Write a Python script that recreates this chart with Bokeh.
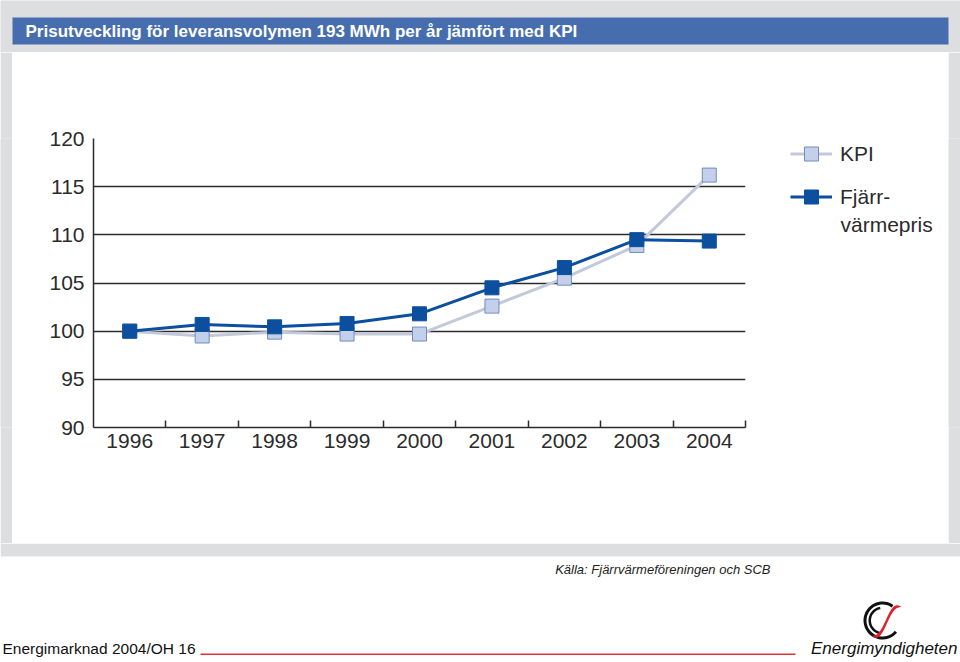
import numpy as np
from bokeh.plotting import figure
from bokeh.layouts import column, row
from bokeh.models import FixedTicker, BoxAnnotation, Label, Legend, LegendItem, PolyAnnotation, Range1d
from bokeh.embed import file_html
from bokeh.resources import INLINE

# ---- data ----
years = [1996, 1997, 1998, 1999, 2000, 2001, 2002, 2003, 2004]
kpi = [100.0, 99.5, 99.9, 99.7, 99.7, 102.6, 105.5, 108.9, 116.2]
fjarrvarme = [100.0, 100.7, 100.45, 100.8, 101.8, 104.5, 106.6, 109.5, 109.35]
y_ticks = [90, 95, 100, 105, 110, 115, 120]
title_text = "Prisutveckling för leveransvolymen 193 MWh per år jämfört med KPI"
legend_kpi = "KPI"
legend_fjv_1 = "Fjärr-"
legend_fjv_2 = "värmepris"
source_text = "Källa: Fjärrvärmeföreningen och SCB"
footer_left = "Energimarknad 2004/OH 16"
footer_right = "Energimyndigheten"

FONT = "Liberation Sans"
DARK = "#2b2b2b"
GRAY = "#dcdee0"
BLUE_BAR = "#466eaf"
KPI_LINE = "#c3c9d8"
KPI_FILL = "#c4d0ea"
KPI_EDGE = "#6f8cc0"
FJV = "#0b4f9e"
DY = -5  # label baseline compensation

MW, MH = 748, 491
TOP, BOTTOM = 86, 116  # main frame borders (shared by the legend panel)


def deco(w, h, bg, top=0, bottom=0):
    f = figure(width=w, height=h, output_backend="svg", toolbar_location=None,
               x_range=Range1d(0, w), y_range=Range1d(h - bottom, top),
               min_border=0, min_border_left=0, min_border_right=0,
               min_border_top=top, min_border_bottom=bottom,
               background_fill_color=bg, border_fill_color=bg, outline_line_color=None,
               x_axis_type=None, y_axis_type=None)
    f.grid.visible = False
    return f


# ---- header (gray with blue title bar) ----
header = deco(960, 52, GRAY)
header.add_layout(BoxAnnotation(left=12, right=948, top=17, bottom=44, fill_color=BLUE_BAR,
                                fill_alpha=1, line_color=None))
header.add_layout(Label(x=25, y=36 + DY, text=title_text, text_color="white", text_font=FONT,
                        text_font_style="bold", text_font_size="17px", text_baseline="alphabetic"))

# ---- main chart ----
p = figure(width=MW, height=MH, output_backend="svg", toolbar_location=None,
           x_range=(1995.5, 2004.5), y_range=(90, 120),
           min_border_left=81, min_border_right=15, min_border_top=TOP, min_border_bottom=BOTTOM,
           background_fill_color="white", border_fill_color="white", outline_line_color=None)

p.yaxis.ticker = FixedTicker(ticks=y_ticks)
p.yaxis.major_tick_in = 0
p.yaxis.major_tick_out = 0
p.yaxis.minor_tick_in = 0
p.yaxis.minor_tick_out = 0
p.yaxis.axis_line_color = DARK
p.yaxis.axis_line_width = 1.5
p.yaxis.major_label_text_font = FONT
p.yaxis.major_label_text_font_size = "21px"
p.yaxis.major_label_text_color = DARK
p.yaxis.major_label_standoff = 9

p.xaxis.ticker = FixedTicker(ticks=years, minor_ticks=[y + 0.5 for y in years])
p.xaxis.major_tick_in = 0
p.xaxis.major_tick_out = 0
p.xaxis.minor_tick_in = 7
p.xaxis.minor_tick_out = 0
p.xaxis.minor_tick_line_color = DARK
p.xaxis.minor_tick_line_width = 1.5
p.xaxis.axis_line_color = DARK
p.xaxis.axis_line_width = 1.5
p.xaxis.major_label_text_font = FONT
p.xaxis.major_label_text_font_size = "21px"
p.xaxis.major_label_text_color = DARK
p.xaxis.major_label_standoff = 6

p.xgrid.grid_line_color = None
p.ygrid.ticker = FixedTicker(ticks=y_ticks[1:])
p.ygrid.grid_line_color = DARK
p.ygrid.grid_line_width = 1.5

p.line(years, kpi, line_color=KPI_LINE, line_width=3)
p.scatter(years, kpi, marker="square", size=14, fill_color=KPI_FILL, line_color=KPI_EDGE, line_width=1)
p.line(years, fjarrvarme, line_color=FJV, line_width=3)
p.scatter(years, fjarrvarme, marker="square", size=14, fill_color=FJV, line_color=FJV, line_width=1)

# ---- legend panel (legend samples use placeholder NaN glyphs, which draw nothing) ----
LW = 188
lg = deco(LW, MH, "white", top=TOP, bottom=BOTTOM)
e = dict(x=[float("nan")], y=[float("nan")])
ll1 = lg.line(line_color=KPI_LINE, line_width=3, **e)
ls1 = lg.scatter(marker="square", size=14, fill_color=KPI_FILL, line_color=KPI_EDGE, line_width=1, **e)
ll2 = lg.line(line_color=FJV, line_width=3, **e)
ls2 = lg.scatter(marker="square", size=14, fill_color=FJV, line_color=FJV, line_width=1, **e)
legend = Legend(items=[LegendItem(label=legend_kpi, renderers=[ll1, ls1]),
                       LegendItem(label=legend_fjv_1, renderers=[ll2, ls2])],
                location=(30, 213), glyph_width=42, glyph_height=35, label_height=35,
                spacing=8, padding=0, margin=0, label_standoff=8,
                label_text_font=FONT, label_text_font_size="21px", label_text_color=DARK,
                border_line_color=None, background_fill_alpha=0)
lg.add_layout(legend)
lg.add_layout(Label(x=80, y=177 + DY, text=legend_fjv_2, text_color=DARK, text_font=FONT,
                    text_font_size="21px", text_baseline="alphabetic"))

strip_l = deco(12, MH, GRAY)
strip_r = deco(12, MH, GRAY)

# ---- footer ----
FH = 118
footer = deco(960, FH, "white")
footer.add_layout(BoxAnnotation(left=0, right=960, top=0, bottom=13, fill_color=GRAY,
                                fill_alpha=1, line_color=None))
footer.add_layout(Label(x=770, y=31 + DY, text=source_text, text_color="#222222", text_font=FONT,
                        text_font_style="italic", text_font_size="13px", text_align="right",
                        text_baseline="alphabetic"))
footer.add_layout(Label(x=2, y=110 + DY, text=footer_left, text_color="#111111", text_font=FONT,
                        text_font_size="15.5px", text_baseline="alphabetic"))
footer.add_layout(BoxAnnotation(left=200, right=795, top=110, bottom=111.5, fill_color="#e0303c",
                                fill_alpha=1, line_color=None))
footer.add_layout(Label(x=957, y=110 + DY, text=footer_right, text_color="#111111",
                        text_font=FONT, text_font_style="italic",
                        text_font_size="17px", text_align="right", text_baseline="alphabetic"))

# logo (decoration)
cx, cy = 882, 77
def ring(r_out, r_in, a0, a1):
    a = np.radians(np.linspace(a0, a1, 40))
    xs = list(cx + r_out * np.cos(a)) + list(cx + r_in * np.cos(a[::-1]))
    ys = list(cy - r_out * np.sin(a)) + list(cy - r_in * np.sin(a[::-1]))
    return xs, ys
for ro, ri, a0, a1 in [(19, 16, 55, 320), (14, 11.5, 100, 260)]:
    xs, ys = ring(ro, ri, a0, a1)
    footer.add_layout(PolyAnnotation(xs=xs, ys=ys, fill_color="#111111", fill_alpha=1, line_color=None))
t = np.linspace(0, 1, 30)
bx = cx - 10 + 28 * t
by = cy + 16 - 30 * t + 5 * np.sin(2 * np.pi * t)
w = 0.5 + 2.4 * np.sin(np.pi * t)
footer.add_layout(PolyAnnotation(xs=list(bx) + list(bx[::-1]), ys=list(by - w) + list((by + w)[::-1]),
                                 fill_color="#e0202c", fill_alpha=1, line_color=None))

layout = column(header, row(strip_l, p, lg, strip_r), footer)
open("out.html", "w").write(file_html(layout, INLINE))
